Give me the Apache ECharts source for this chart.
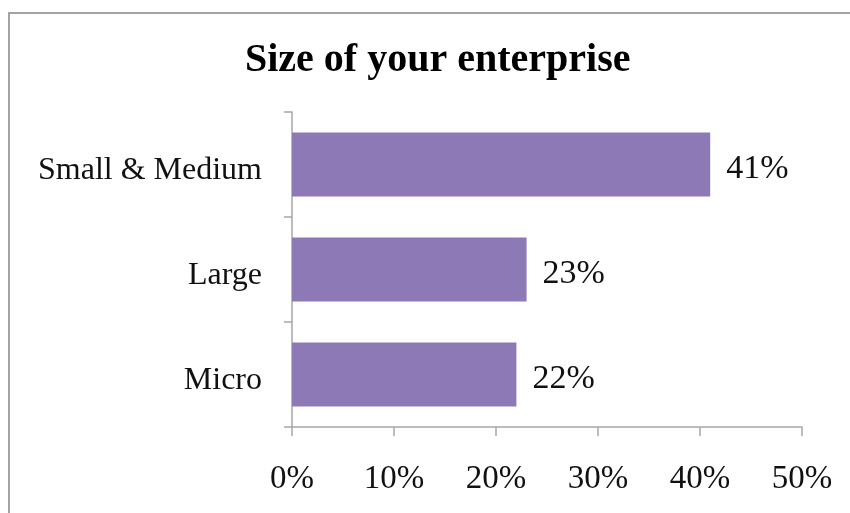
<!DOCTYPE html>
<html>
<head>
<meta charset="utf-8">
<script src="https://cdn.jsdelivr.net/npm/echarts@6/dist/echarts.min.js"></script>
<style>
  html, body { margin: 0; padding: 0; background: #fff; }
  #chart { width: 850px; height: 513px; }
</style>
</head>
<body>
<div id="chart"></div>
<script>
// Enterprise size breakdown (share of respondents, %)
const categories = ['Micro', 'Large', 'Small & Medium'];
const shares = [22, 23, 41];
const tickValues = [0, 10, 20, 30, 40, 50];

const serif = '"Liberation Serif", "DejaVu Serif", serif';
const chart = echarts.init(document.getElementById('chart'), null, { renderer: 'canvas' });

chart.setOption({
  backgroundColor: '#ffffff',
  animation: false,
  title: {
    text: 'Size of your enterprise',
    left: 240,
    top: 36,
    textStyle: { fontFamily: serif, fontWeight: 'bold', fontSize: 40, color: '#000' }
  },
  graphic: [{
    type: 'rect',
    shape: { x: 9, y: 13, width: 900, height: 600 },
    style: { fill: 'none', stroke: '#a3a3a3', lineWidth: 2 },
    silent: true
  }],
  grid: { left: 292, right: 48, top: 112, bottom: 86 },
  xAxis: {
    type: 'value',
    min: tickValues[0],
    max: tickValues[tickValues.length - 1],
    interval: 10,
    axisLine: { show: true, lineStyle: { color: '#a6a6a6', width: 1.5 } },
    axisTick: { show: true, length: 9, lineStyle: { color: '#a6a6a6', width: 1.5 } },
    splitLine: { show: false },
    axisLabel: {
      formatter: v => v + '%',
      margin: 36,
      fontFamily: serif, fontSize: 33, color: '#111'
    }
  },
  yAxis: {
    type: 'category',
    data: categories,
    axisLine: { show: true, lineStyle: { color: '#a6a6a6', width: 1.5 } },
    axisTick: { show: true, length: 8, lineStyle: { color: '#a6a6a6', width: 1.5 } },
    axisLabel: {
      margin: 30,
      formatter: v => '{c|' + v + '}',
      rich: { c: { fontFamily: serif, fontSize: 32, color: '#111', padding: [12, 0, 0, 0] } }
    }
  },
  series: [{
    type: 'bar',
    data: shares,
    barCategoryGap: '39%',
    itemStyle: { color: '#8d79b5' },
    label: {
      show: true,
      position: 'right',
      distance: 16,
      offset: [0, 5],
      formatter: p => p.value + '%',
      fontFamily: serif, fontSize: 34, color: '#111'
    }
  }]
});
</script>
</body>
</html>
